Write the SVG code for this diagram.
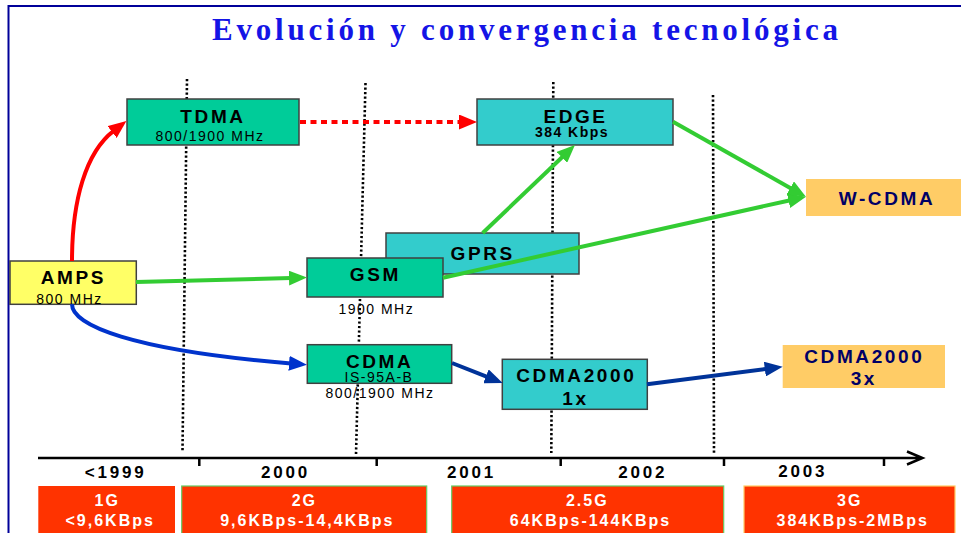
<svg xmlns="http://www.w3.org/2000/svg" width="961" height="533" viewBox="0 0 961 533">
<style>
.t{font-family:"Liberation Sans",Arial,sans-serif;fill:#000;text-anchor:middle}
.b{font-weight:bold;font-size:19px;letter-spacing:2.6px}
.s{font-size:14px;letter-spacing:1.5px}
.sb{font-size:14px;font-weight:bold;letter-spacing:1.5px}
.y{font-weight:bold;font-size:17px;letter-spacing:2.8px}
.w{fill:#fff;font-weight:bold;font-size:16px;letter-spacing:2px}
.nv{fill:#000066}
.box{stroke:#404040;stroke-width:1.5}
.g1{fill:#00CC99}.g2{fill:#33CCCC}
.dot{stroke:#000;stroke-width:2.6;stroke-dasharray:2.2 2.3;fill:none}
.red{fill:#FF3300}
.ar{fill:none;stroke-width:4}
</style>
<defs>
<marker id="mr" markerUnits="userSpaceOnUse" markerWidth="18" markerHeight="15" refX="2" refY="7.5" orient="auto"><path d="M0,0 L18,7.5 L0,15 z" fill="#FF0000"/></marker>
<marker id="mg" markerUnits="userSpaceOnUse" markerWidth="18" markerHeight="15" refX="2" refY="7.5" orient="auto"><path d="M0,0 L18,7.5 L0,15 z" fill="#33CC33"/></marker>
<marker id="mb" markerUnits="userSpaceOnUse" markerWidth="18" markerHeight="15" refX="2" refY="7.5" orient="auto"><path d="M0,0 L18,7.5 L0,15 z" fill="#0033CC"/></marker>
<marker id="mn" markerUnits="userSpaceOnUse" markerWidth="18" markerHeight="15" refX="2" refY="7.5" orient="auto"><path d="M0,0 L18,7.5 L0,15 z" fill="#003399"/></marker>
</defs>
<rect width="961" height="533" fill="#fff"/>
<path d="M8.5,533 V6 H961" fill="none" stroke="#000099" stroke-width="2"/>
<text x="525" y="40" font-family="'Liberation Serif','Times New Roman',serif" font-weight="bold" font-size="31" fill="#1414E6" text-anchor="middle" textLength="626" lengthAdjust="spacing">Evolución y convergencia tecnológica</text>

<g id="timeline">
<path class="dot" d="M187,79 L182.5,451"/>
<path class="dot" d="M365.5,83 L356,455"/>
<path class="dot" d="M553.3,82 L551.3,453"/>
<path class="dot" d="M713,95 L714,455"/>
<path d="M38,458 H921 M907,451.5 L922.5,458 L907,464.5 M199.3,458 V466 M376.7,458 V466 M560.7,458 V466 M724,458 V466 M884,458 V466" fill="none" stroke="#000" stroke-width="2.5"/>
<text class="t y" x="115.6" y="477.7">&lt;1999</text>
<text class="t y" x="285.6" y="477.7">2000</text>
<text class="t y" x="471.4" y="477.7">2001</text>
<text class="t y" x="642.7" y="477.7">2002</text>
<text class="t y" x="802.7" y="476.7">2003</text>
</g>

<g id="n1G"><rect class="red" x="38.3" y="486" width="136.7" height="60"/>
<text class="t w" x="107.2" y="506">1G</text><text class="t w" x="110.2" y="525.7">&lt;9,6KBps</text></g>
<g id="n2G"><rect class="red" x="181.7" y="486" width="245" height="60" stroke="#66CC66" stroke-width="1.2"/>
<text class="t w" x="304.3" y="506">2G</text><text class="t w" x="307.3" y="525.7">9,6KBps-14,4KBps</text></g>
<g id="n25G"><rect class="red" x="451.7" y="486" width="272" height="60" stroke="#66CC66" stroke-width="1.2"/>
<text class="t w" x="587.3" y="506">2.5G</text><text class="t w" x="590.5" y="525.7">64KBps-144KBps</text></g>
<g id="n3G"><rect class="red" x="744" y="486" width="211" height="60" stroke="#FFCC66" stroke-width="1.2"/>
<text class="t w" x="849.7" y="506">3G</text><text class="t w" x="852.7" y="525.7">384KBps-2MBps</text></g>

<g id="TDMA"><rect class="box g1" x="127" y="99" width="172" height="46"/>
<text class="t b" x="213" y="123">TDMA</text><text class="t s" x="210" y="140.5">800/1900 MHz</text></g>
<g id="EDGE"><rect class="box g2" x="477" y="99" width="196" height="46"/>
<text class="t b" x="575.5" y="123">EDGE</text><text class="t sb" x="572" y="137">384 Kbps</text></g>
<g id="WCDMA"><rect x="806" y="179" width="160" height="37" fill="#FFCC66"/>
<text class="t b nv" x="887" y="205">W-CDMA</text></g>
<g id="GPRS"><rect class="box g2" x="386" y="233" width="193" height="41"/>
<text class="t b" x="482.7" y="260">GPRS</text></g>
<g id="GSM"><rect class="box g1" x="307" y="258" width="136" height="39"/>
<text class="t b" x="375.3" y="281">GSM</text><text class="t s" x="376.3" y="314">1900 MHz</text></g>
<g id="AMPS"><rect class="box" x="10" y="261" width="126.3" height="43.3" fill="#FFFF66"/>
<text class="t b" x="73.3" y="284">AMPS</text><text class="t s" x="69.5" y="304">800 MHz</text></g>
<g id="CDMA"><rect class="box g1" x="307.3" y="344.7" width="144.4" height="38.6"/>
<text class="t b" x="379.6" y="367.7">CDMA</text><text class="t s" x="379" y="381.7">IS-95A-B</text><text class="t s" x="380" y="398.3">800/1900 MHz</text></g>
<g id="CDMA2000-1x"><rect class="box g2" x="502.3" y="359.3" width="145" height="50"/>
<text class="t b" x="576.3" y="381.7">CDMA2000</text><text class="t b" x="575.5" y="405">1x</text></g>
<g id="CDMA2000-3x"><rect x="782.7" y="345" width="162.3" height="43" fill="#FFCC66"/>
<text class="t b nv" x="864.3" y="363.3">CDMA2000</text><text class="t b nv" x="863.8" y="385">3x</text></g>

<g id="connectors">
<path class="ar" stroke="#FF0000" d="M72,261 C72,200 86,152 113.7,130.8" marker-end="url(#mr)"/>
<path class="ar" stroke="#FF0000" stroke-width="3.5" stroke-dasharray="6 4.5" d="M300,122 L461,122" marker-end="url(#mr)"/>
<path class="ar" stroke="#33CC33" d="M136,282 L291,278" marker-end="url(#mg)"/>
<path class="ar" stroke="#33CC33" d="M443,277.7 L790.4,200.2" marker-end="url(#mg)"/>
<path class="ar" stroke="#33CC33" d="M482.7,233 L563.4,156" marker-end="url(#mg)"/>
<path class="ar" stroke="#33CC33" d="M673,121.7 L792,188.9" marker-end="url(#mg)"/>
<path class="ar" stroke="#0033CC" d="M72,304.3 C72,325 130,350 291,363.5" marker-end="url(#mb)"/>
<path class="ar" stroke="#003399" d="M452,363 L487.8,377.1" marker-end="url(#mn)"/>
<path class="ar" stroke="#003399" d="M647,384.3 L766.8,368.8" marker-end="url(#mn)"/>
</g>
</svg>
